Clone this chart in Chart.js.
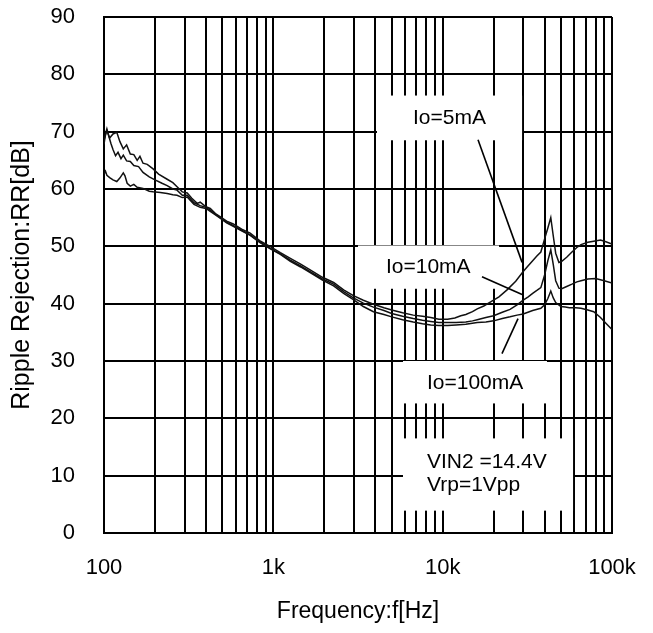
<!DOCTYPE html>
<html>
<head>
<meta charset="utf-8">
<script src="https://cdn.jsdelivr.net/npm/chart.js@4.4.0/dist/chart.umd.min.js"></script>
<style>
html,body{margin:0;padding:0;background:#fff}
#wrap{width:653px;height:633px}
</style>
</head>
<body>
<div id="wrap"><canvas id="rrChart" width="653" height="633"></canvas></div>
<script>
// values, frequency in Hz, rejection in dB
const freq5mA=[100,104,108,113,119,124,130,136,143,150,157,163,170,180,195,210,236,255,270,290,310,330,355,370,400,424,455,485,530,580,650,730,830,955,1100,1260,1450,1650,1950,2270,2600,2970,3400,3900,4500,5000,5800,6700,7600,8500,9500,10700,11800,12800,13700,15000,16000,17500,19200,21500,24000,27000,29900,32000,34000,36000,38000,40000,41800,43500,45000,46500,48600,50500,54000,58000,62000,65600,72000,78000,85500,92000,100000];
const rr5mA=[68.5,70.2,68.9,69.6,69.9,68.3,67.0,67.7,66.1,66.0,65.0,65.7,64.5,64.3,63.5,62.6,61.7,61.1,60.4,59.5,59.3,58.4,57.5,57.7,56.9,56.6,55.7,55.2,54.4,53.9,53.0,52.3,51.0,50.0,48.9,47.9,46.9,45.9,44.6,43.7,42.4,41.4,40.6,39.9,39.3,38.9,38.4,38.0,37.8,37.6,37.3,37.3,37.5,37.9,38.1,38.6,39.1,39.6,40.3,41.2,42.4,43.9,45.6,46.6,47.5,48.3,49.0,51.3,53.2,55.0,51.8,48.8,47.2,47.4,48.1,49.0,49.8,50.3,50.7,50.9,51.1,50.8,50.4];

const freq10mA=[100,102,104,107,110,113,117,121,126,130,136,143,150,160,170,185,200,220,236,255,270,290,310,340,370,400,424,455,485,530,580,650,730,830,955,1100,1260,1450,1650,1950,2270,2600,2970,3400,3900,4500,5000,5800,6700,7600,8500,9500,10700,12000,13700,15000,16000,18000,20000,22500,25000,27500,29900,32000,34000,36000,38000,40000,41800,43500,45000,46500,48600,50500,54000,58000,62000,65600,72000,80000,90000,100000];
const rr10mA=[67.8,69.6,70.5,69.1,67.9,66.9,65.8,66.4,65.3,65.9,64.9,64.8,64.1,63.9,62.9,62.1,61.6,61.0,60.6,60.0,59.8,58.9,58.9,57.6,57.1,56.8,56.3,55.6,55.0,54.2,53.6,52.8,52.0,50.8,49.7,48.7,47.6,46.6,45.6,44.3,43.4,42.1,41.0,40.1,39.4,38.8,38.3,37.8,37.4,37.1,36.9,36.7,36.7,36.7,36.8,37.0,37.2,37.6,37.9,38.5,39.0,39.8,40.6,41.2,41.8,42.3,42.8,45.0,47.5,49.4,46.8,44.0,42.7,42.6,43.0,43.4,43.8,44.0,44.3,44.4,44.0,43.6];

const freq100mA=[100,102,104,108,113,119,124,130,133,137,143,150,157,170,185,195,215,236,255,270,290,310,340,370,400,424,455,485,530,580,650,730,830,955,1100,1260,1450,1650,1950,2270,2600,2970,3400,3900,4500,5000,5800,6700,7600,8500,9500,10700,12000,13700,16000,18000,20000,22500,25000,27500,29900,34000,38000,40000,41800,43500,45000,46500,49900,53000,56000,61000,65600,72000,78000,85500,92000,100000];
const rr100mA=[62.6,63.1,62.4,62.0,61.6,61.3,61.9,62.8,62.3,61.0,60.5,60.8,60.3,60.1,59.6,59.5,59.4,59.2,59.0,58.9,58.5,58.6,57.3,56.8,56.6,56.1,55.5,54.9,54.1,53.5,52.7,51.9,50.7,49.6,48.6,47.4,46.4,45.4,44.1,43.1,41.8,40.7,39.5,38.6,38.1,37.7,37.2,36.8,36.5,36.3,36.2,36.2,36.3,36.4,36.7,36.8,37.0,37.4,37.7,38.0,38.2,38.8,39.2,39.8,40.9,42.2,41.0,40.2,39.5,39.4,39.3,39.3,39.2,38.9,38.6,37.6,36.6,35.5];

// axis ticks
const gridFreqs=[100,200,300,400,500,600,700,800,900,1000,2000,3000,4000,5000,6000,7000,8000,9000,10000,20000,30000,40000,50000,60000,70000,80000,90000,100000];
const decadeFreqs=[100,1000,10000,100000];
const decadeLabels=['100','1k','10k','100k'];
const yTicks=[0,10,20,30,40,50,60,70,80,90];

// text boxes in data units: [fLeft,fRight,dbTop,dbBottom], text start, leader line
const notes=[
  {lines:['Io=5mA'],box:[4095,29440,76.3,68.5],tx:6680,ty:[72.4],lead:[16170,68.6,29440,47.2]},
  {lines:['Io=10mA'],box:[3162,21530,50.15,42.6],tx:4625,ty:[46.3],lead:[17070,44.7,29440,41.6]},
  {lines:['Io=100mA'],box:[5830,41300,30.0,22.6],tx:8080,ty:[26.1],lead:[22400,31.3,27860,37.4]},
  {lines:['VIN2 =14.4V','Vrp=1Vpp'],box:[5830,58880,16.5,3.9],tx:8080,ty:[12.3,8.3],lead:null}
];

const FONT='"Liberation Sans", Arial, Helvetica, sans-serif';

const notePlugin={
  id:'notes',
  afterDatasetsDraw(chart){
    const {ctx,scales:{x,y}}=chart;
    ctx.save();
    notes.forEach(n=>{
      const l=x.getPixelForValue(n.box[0]), r=x.getPixelForValue(n.box[1]);
      const t=y.getPixelForValue(n.box[2]), b=y.getPixelForValue(n.box[3]);
      ctx.fillStyle='#fff'; ctx.fillRect(l,t,r-l,b-t);
    });
    notes.forEach(n=>{
      if(n.lead){
        ctx.strokeStyle='#000'; ctx.lineWidth=1.6;
        ctx.beginPath();
        ctx.moveTo(x.getPixelForValue(n.lead[0]),y.getPixelForValue(n.lead[1]));
        ctx.lineTo(x.getPixelForValue(n.lead[2]),y.getPixelForValue(n.lead[3]));
        ctx.stroke();
      }
      ctx.fillStyle='#000'; ctx.font='21px '+FONT; ctx.textAlign='left'; ctx.textBaseline='middle';
      n.lines.forEach((s,i)=>ctx.fillText(s,x.getPixelForValue(n.tx),y.getPixelForValue(n.ty[i])));
    });
    ctx.restore();
  }
};

function series(fs,vs){ return fs.map((f,i)=>({x:f,y:vs[i]})); }
const lineStyle={borderColor:'#111',borderWidth:1.5,pointRadius:0,tension:0,fill:false};

new Chart(document.getElementById('rrChart'),{
  type:'line',
  data:{datasets:[
    {label:'Io=5mA',data:series(freq5mA,rr5mA),...lineStyle},
    {label:'Io=10mA',data:series(freq10mA,rr10mA),...lineStyle},
    {label:'Io=100mA',data:series(freq100mA,rr100mA),...lineStyle}
  ]},
  options:{
    responsive:false,animation:false,devicePixelRatio:1,
    layout:{padding:{top:17,right:41,left:0,bottom:0}},
    plugins:{legend:{display:false},tooltip:{enabled:false}},
    scales:{
      x:{
        type:'logarithmic',min:100,max:100000,
        afterBuildTicks:s=>{ s.ticks=gridFreqs.map(v=>({value:v})); },
        afterFit:s=>{ s.height=100; s.paddingLeft=0; s.paddingRight=0; },
        ticks:{autoSkip:false,maxRotation:0,color:'#000',padding:22,font:{family:FONT,size:22},
          callback:v=>{ const i=decadeFreqs.indexOf(v); return i<0?'':decadeLabels[i]; }},
        grid:{color:'#000',lineWidth:2,drawTicks:false},
        border:{color:'#000',width:2},
        title:{display:true,text:'Frequency:f[Hz]',color:'#000',font:{family:FONT,size:23},padding:{top:0,bottom:8}}
      },
      y:{
        type:'linear',min:0,max:90,
        afterBuildTicks:s=>{ s.ticks=yTicks.map(v=>({value:v})); },
        afterFit:s=>{ s.width=104; s.paddingTop=0; s.paddingBottom=0; },
        ticks:{color:'#000',padding:29,font:{family:FONT,size:22}},
        grid:{color:'#000',lineWidth:2,drawTicks:false},
        border:{color:'#000',width:2},
        title:{display:true,text:'Ripple Rejection:RR[dB]',color:'#000',font:{family:FONT,size:25},padding:{top:7,bottom:0}}
      }
    }
  },
  plugins:[notePlugin]
});
</script>
</body>
</html>
